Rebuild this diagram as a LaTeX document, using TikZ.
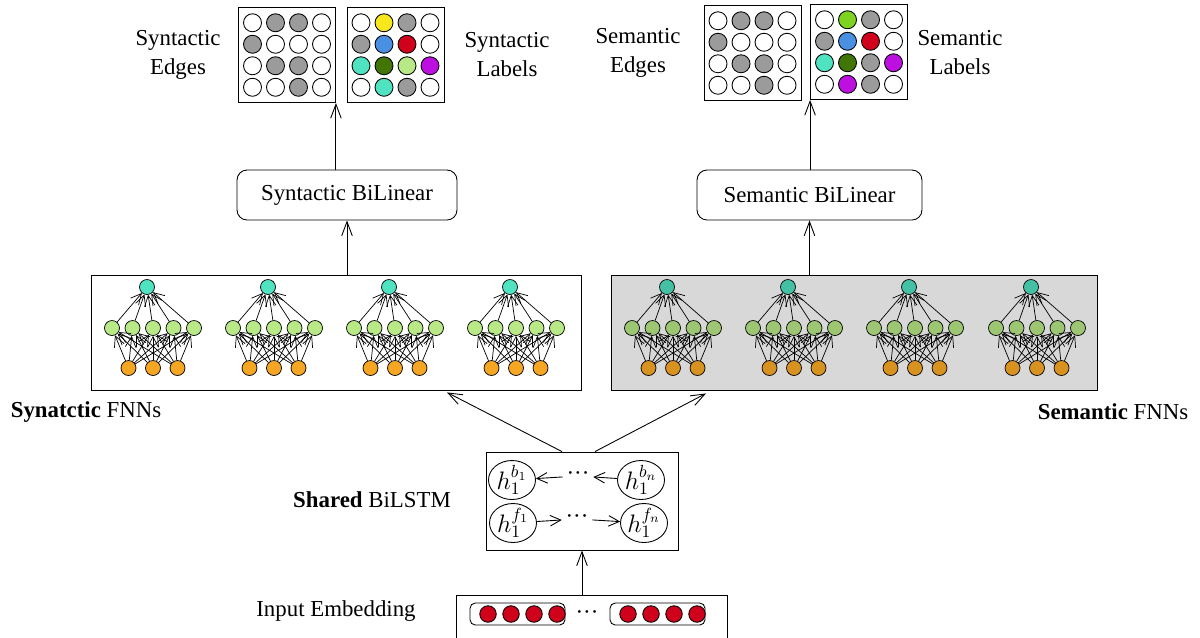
\documentclass[tikz,border=0pt]{standalone}
\usepackage{fontspec}
\setmainfont{Liberation Serif}
\usetikzlibrary{arrows.meta,shapes.geometric}

\definecolor{cgray}{HTML}{9B9B9B}
\definecolor{cyellow}{HTML}{F8E71C}
\definecolor{cblue}{HTML}{4A90E2}
\definecolor{cred}{HTML}{D0021B}
\definecolor{cteal}{HTML}{50E3C2}
\definecolor{cdgreen}{HTML}{417505}
\definecolor{clgreen}{HTML}{B8E986}
\definecolor{cpurple}{HTML}{BD10E0}
\definecolor{clime}{HTML}{7ED321}
\definecolor{corange}{HTML}{F5A623}
\definecolor{semback}{HTML}{D8D8D8}
\colorlet{semteal}{cteal!85!black}
\colorlet{semgreen}{clgreen!85!black}
\colorlet{semorange}{corange!88!black}

\tikzset{
  gridbox/.style={draw, line width=0.5pt, minimum width=1.94cm, minimum height=1.9cm, inner sep=0pt},
  gridcirc/.style={circle, draw, line width=0.5pt, minimum size=0.36cm, inner sep=0pt},
  unit/.style={circle, draw, line width=0.4pt, minimum size=0.3cm, inner sep=0pt},
  wire/.style={line width=0.4pt, -{Straight Barb[length=6pt,width=6pt]}},
  arr/.style={line width=0.5pt, -{Straight Barb[length=8pt,width=6pt]}},
  sarr/.style={line width=0.5pt, -{Straight Barb[length=6pt,width=6pt]}},
  bilbox/.style={draw, line width=0.5pt, rounded corners=0.2cm, minimum height=1cm},
  fnnbox/.style={draw, line width=0.5pt, minimum width=9.8cm, minimum height=2.3cm},
  hcell/.style={ellipse, draw, line width=0.5pt, minimum width=0.94cm, minimum height=0.78cm, inner sep=-5pt,
    font=\fontsize{14.4}{16}\selectfont},
  vecbox/.style={draw, line width=0.5pt, rounded corners=3pt, minimum width=1.9cm, minimum height=0.44cm},
  redcirc/.style={circle, draw, line width=0.5pt, fill=cred, minimum size=0.33cm, inner sep=0pt}
}

% grid of label circles: name, x, y, rows of colours
\newcommand{\drawgrid}[4]{%
  \node[gridbox] (#1) at (#2,#3) {};
  \foreach \row [count=\r] in {#4}
    \foreach \col [count=\c] in \row
      \node[gridcirc, fill=\col] (#1-\r-\c) at (#2-57.5+\c*23, #3-53.75+\r*21.5) {};
}

% small feed-forward net: prefix, centre x, output, hidden, input colours
\newcommand{\fnn}[5]{%
  \foreach \i in {1,2,3}
    \node[unit, fill=#5] (#1o\i) at (#2-49+\i*24.5, 368) {};
  \foreach \j in {1,...,5}
    \node[unit, fill=#4] (#1g\j) at (#2-61.5+\j*20.5, 328) {};
  \node[unit, fill=#3] (#1t) at (#2-6, 287) {};
  \foreach \i in {1,2,3}
    \foreach \j in {1,...,5}
      \draw[wire] (#1o\i) -- (#1g\j);
  \foreach \j in {1,...,5}
    \draw[wire] (#1g\j) -- (#1t);
}

\begin{document}
\begin{tikzpicture}[x=0.02cm, y=-0.02cm, font=\fontsize{13}{16.5}\selectfont]
\useasboundingbox (0,0) rectangle (1200,637);

% outputs
\drawgrid{synedges}{287}{55}{{white,cgray,cgray,white},{cgray,white,white,white},{white,cgray,cgray,white},{white,white,cgray,white}}
\drawgrid{synlabels}{395.5}{55}{{white,cyellow,cgray,white},{cgray,cblue,cred,white},{cteal,cdgreen,clgreen,cpurple},{white,cteal,cgray,white}}
\drawgrid{semedges}{752.5}{53}{{white,cgray,cgray,white},{cgray,white,white,white},{white,cgray,cgray,white},{white,white,cgray,white}}
\drawgrid{semlabels}{859}{52}{{white,clime,cgray,white},{cgray,cblue,cred,white},{cteal,cdgreen,cgray,cpurple},{white,cpurple,cgray,white}}

\node[align=center] (synedgestxt) at (178,55) {Syntactic\\Edges};
\node[align=center] (synlabelstxt) at (507,55) {Syntactic\\Labels};
\node[align=center] (semedgestxt) at (638,53) {Semantic\\Edges};
\node[align=center] (semlabelstxt) at (960,53) {Semantic\\Labels};

% bilinear layers
\node[bilbox, minimum width=4.4cm] (synbil) at (347,195) {Syntactic BiLinear};
\node[bilbox, minimum width=4.5cm] (sembil) at (809.5,195) {Semantic BiLinear};

% FNNs
\node[fnnbox] (synfnn) at (336,332.5) {};
\node[fnnbox, fill=semback, minimum width=9.72cm] (semfnn) at (854,332.5) {};
\fnn{sa}{153}{cteal}{clgreen}{corange}
\fnn{sb}{274}{cteal}{clgreen}{corange}
\fnn{sc}{395}{cteal}{clgreen}{corange}
\fnn{sd}{516}{cteal}{clgreen}{corange}
\fnn{ma}{673}{semteal}{semgreen}{semorange}
\fnn{mb}{794}{semteal}{semgreen}{semorange}
\fnn{mc}{915}{semteal}{semgreen}{semorange}
\fnn{md}{1037}{semteal}{semgreen}{semorange}
\node (synfnnlbl) at (86,412) {\textbf{Synatctic} FNNs};
\node (semfnnlbl) at (1113,412) {\textbf{Semantic} FNNs};

% shared BiLSTM
\node[draw, line width=0.5pt, minimum width=3.84cm, minimum height=1.96cm] (bilstm) at (582,501) {};
\node[hcell] (hb1) at (512,480) {$h_1^{b_1}$};
\node[hcell] (hbn) at (641,480) {$h_1^{b_n}$};
\node[hcell] (hf1) at (513,523) {$h_1^{f_1}$};
\node[hcell] (hfn) at (644,523) {$h_1^{f_n}$};
\node[inner sep=2pt] (dotb) at (578,476) {···};
\node[inner sep=2pt] (dotf) at (577,519) {···};
\draw[sarr] (hbn) -- (dotb);
\draw[sarr] (dotb) -- (hb1);
\draw[sarr] (hf1) -- (dotf);
\draw[sarr] (dotf) -- (hfn);
\node (bilstmlbl) at (372,500) {\textbf{Shared} BiLSTM};

% input embedding
\node[draw, line width=0.5pt, minimum width=5.42cm, minimum height=1.1cm] (embed) at (591.5,622.5) {};
\node[vecbox] (vecl) at (517.5,614) {};
\node[vecbox] (vecr) at (657.5,614) {};
\foreach \i in {1,...,4} {
  \node[redcirc] (vl\i) at (465+\i*23, 614) {};
  \node[redcirc] (vr\i) at (605+\i*23, 614) {};
}
\node (dote) at (587,615) {···};
\node (embedlbl) at (336,611) {Input Embedding};

% connections
\draw[arr] (embed.north -| bilstm.south) -- (bilstm.south);
\draw[arr] ([xshift=-0.4cm]bilstm.north) -- ([xshift=2.22cm, yshift=-0.04cm]synfnn.south);
\draw[arr] ([xshift=0.26cm]bilstm.north) -- ([xshift=-2.96cm, yshift=-0.06cm]semfnn.south);
\draw[arr] (synfnn.north -| synbil.south) -- (synbil.south);
\draw[arr] (semfnn.north -| sembil.south) -- (sembil.south);
\draw[arr] (synbil.north -| synedges.south east) -- (synedges.south east);
\draw[arr] (sembil.north -| semlabels.south west) -- (semlabels.south west);
\end{tikzpicture}
\end{document}
